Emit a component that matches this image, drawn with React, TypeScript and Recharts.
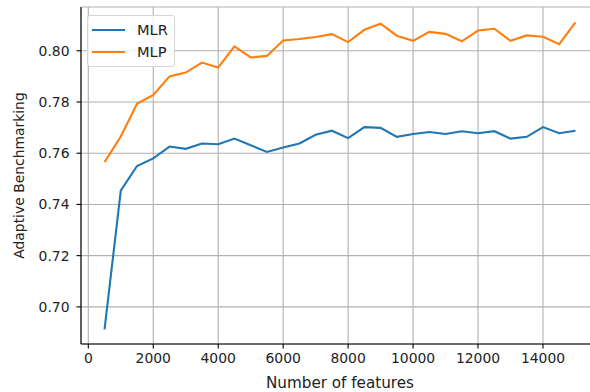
import React from 'react';
import { LineChart, Line, XAxis, YAxis, CartesianGrid, Legend } from 'recharts';

const features = [500, 1000, 1500, 2000, 2500, 3000, 3500, 4000, 4500, 5000, 5500, 6000, 6500, 7000, 7500, 8000, 8500, 9000, 9500, 10000, 10500, 11000, 11500, 12000, 12500, 13000, 13500, 14000, 14500, 15000];
const mlr = [0.6912, 0.7454, 0.755, 0.758, 0.7626, 0.7617, 0.7638, 0.7635, 0.7657, 0.7631, 0.7605, 0.7622, 0.7638, 0.7672, 0.7688, 0.7659, 0.7702, 0.7699, 0.7664, 0.7675, 0.7683, 0.7675, 0.7686, 0.7678, 0.7686, 0.7657, 0.7664, 0.7702, 0.7678, 0.7688];
const mlp = [0.7565, 0.7665, 0.7793, 0.7828, 0.79, 0.7915, 0.7954, 0.7935, 0.8017, 0.7974, 0.798, 0.804, 0.8046, 0.8054, 0.8065, 0.8034, 0.8082, 0.8106, 0.8059, 0.8039, 0.8074, 0.8066, 0.8037, 0.8079, 0.8086, 0.8039, 0.806, 0.8055, 0.8026, 0.8111];
const xTicks = [0, 2000, 4000, 6000, 8000, 10000, 12000, 14000];
const yTicks = [0.7, 0.72, 0.74, 0.76, 0.78, 0.8];
const seriesNames = ['MLR', 'MLP'];
const seriesColors = ['#1f77b4', '#ff7f0e'];

const data = features.map((f, i) => ({ f, MLR: mlr[i], MLP: mlp[i] }));

const FONT = '"DejaVu Sans", sans-serif';
const FS = 13.9;
const TXT = '#222';

const LegendBox = () => (
  <div
    style={{
      position: 'relative',
      width: 88,
      height: 52,
      boxSizing: 'border-box',
      border: '1px solid #d6d6d6',
      borderRadius: 3,
      background: 'rgba(255,255,255,0.8)',
      fontFamily: FONT,
      fontSize: 14.6,
      color: TXT,
    }}
  >
    {seriesNames.map((name, i) => (
      <div key={name} style={{ position: 'absolute', left: 0, top: 14 + i * 22 - 9, height: 18, width: 86 }}>
        <div style={{ position: 'absolute', left: 4, top: 8, width: 33, height: 2, background: seriesColors[i] }} />
        <div style={{ position: 'absolute', left: 49, top: 0, lineHeight: '18px' }}>{name}</div>
      </div>
    ))}
  </div>
);

const YLabel = (props: any) => {
  const vb = props.viewBox;
  const cx = vb.x + 19;
  const cy = vb.y + vb.height / 2;
  return (
    <text x={cx} y={cy} transform={`rotate(-90, ${cx}, ${cy})`} textAnchor="middle" dominantBaseline="central" fontFamily={FONT} fontSize={FS} fill={TXT}>
      Adaptive Benchmarking
    </text>
  );
};

const XLabel = (props: any) => {
  const vb = props.viewBox;
  return (
    <text x={vb.x + vb.width / 2} y={vb.y + 44} textAnchor="middle" fontFamily={FONT} fontSize={15.2} fill={TXT}>
      Number of features
    </text>
  );
};

export default function App() {
  return (
    <div style={{ position: 'absolute', left: 0, top: 0, width: 590, height: 392, overflow: 'hidden', background: '#fff' }}>
      <LineChart width={600} height={392} data={data} margin={{ top: 7, right: 1, left: 0, bottom: 0 }}>
        <CartesianGrid stroke="#b0b0b0" strokeWidth={1.1} />
        <XAxis
          dataKey="f"
          type="number"
          domain={[-225, 15725]}
          ticks={xTicks}
          allowDataOverflow
          height={48}
          tickSize={4.5}
          tickMargin={5}
          stroke="#000"
          strokeWidth={1.1}
          tick={{ fontFamily: FONT, fontSize: FS, fill: TXT }}
          label={<XLabel />}
        />
        <XAxis xAxisId="top" orientation="top" type="number" domain={[-225, 15725]} height={0} tick={false} tickLine={false} stroke="#000" strokeWidth={1.1} />
        <YAxis
          type="number"
          domain={[0.6855, 0.8171]}
          ticks={yTicks}
          allowDataOverflow
          width={81}
          tickSize={4.5}
          tickMargin={7}
          stroke="#000"
          strokeWidth={1.1}
          tickFormatter={(v: number) => v.toFixed(2)}
          tick={{ fontFamily: FONT, fontSize: FS, fill: TXT }}
          label={<YLabel />}
        />
        <Legend layout="vertical" align="center" verticalAlign="middle" wrapperStyle={{ position: 'absolute', left: 87, top: 15, width: 88 }} content={<LegendBox />} />
        {seriesNames.map((name, i) => (
          <Line key={name} dataKey={name} stroke={seriesColors[i]} strokeWidth={2.1} dot={false} isAnimationActive={false} />
        ))}
      </LineChart>
    </div>
  );
}
